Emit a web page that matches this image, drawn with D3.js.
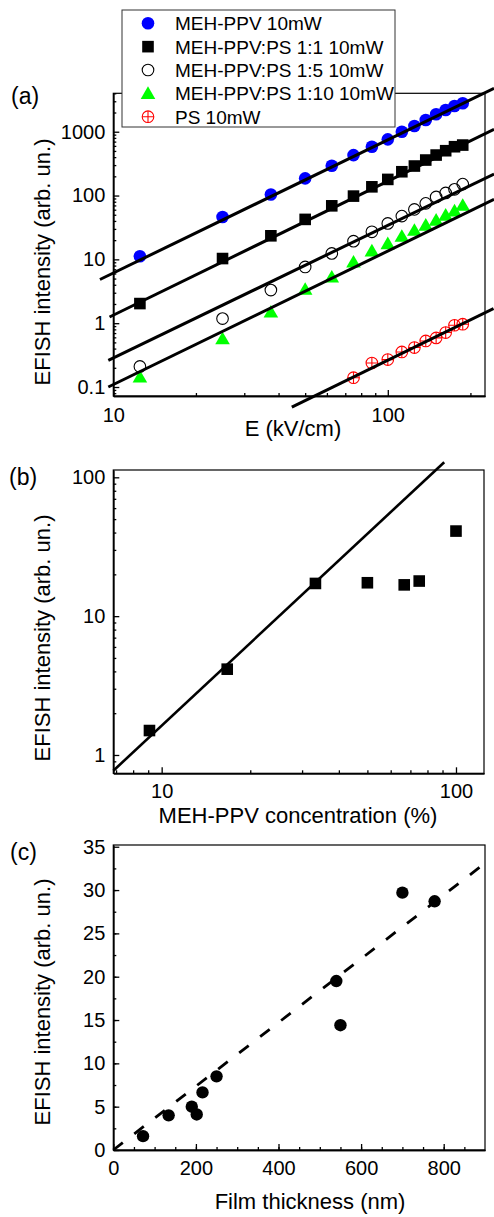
<!DOCTYPE html>
<html>
<head>
<meta charset="utf-8">
<title>EFISH intensity</title>
<script src="https://cdn.jsdelivr.net/npm/d3@7"></script>
<style>
  body { margin: 0; background: #fff; }
  svg text { font-family: "Liberation Sans", Arial, sans-serif; fill: #000; }
  .tick text { font-size: 20px; }
  .axis-title { font-size: 22px; }
  .panel-label { font-size: 23px; }
  .legend text { font-size: 19px; }
  .axis path, .axis line { stroke: #000; stroke-width: 1.3; }
</style>
</head>
<body>
<svg id="chart" width="494" height="1217"></svg>
<script>
// ---- data, panel (a): EFISH intensity vs field
var fieldE = [12.5, 25, 37.5, 50, 62.5, 75, 87.5, 100, 112.5, 125, 137.5, 150, 162.5, 175, 187.5];
var mehPpv = [11.2, 46, 104, 186, 293, 430, 582, 760, 1000, 1230, 1530, 1880, 2190, 2530, 2790];
var blend11 = [2.03, 10.3, 23.4, 42.3, 69, 98, 137, 179, 236, 290, 360, 431, 504, 582, 618];
var blend15 = [0.21, 1.18, 3.3, 7.6, 12.4, 19.3, 27, 36.6, 47.6, 60.7, 75.4, 95, 110, 125, 151];
var blend110 = [0.144, 0.57, 1.5, 3.4, 5.3, 9.1, 13.6, 17.7, 23.1, 28.7, 34.4, 41.2, 49.4, 57.7, 70.7];
var fieldPS = [75, 87.5, 100, 112.5, 125, 137.5, 150, 162.5, 175, 187.5];
var psOnly = [0.140, 0.238, 0.269, 0.354, 0.415, 0.527, 0.588, 0.713, 0.929, 0.964];
// power-law fits, [E1, I1, E2, I2]
var fitsA = [
  [8.94, 4.84, 243.8, 4797],
  [9.69, 1.25, 243.8, 1091],
  [9.59, 0.262, 243.8, 217],
  [9.59, 0.1, 243.8, 87],
  [44.7, 0.0485, 242.7, 1.70]
];
var seriesNames = ["MEH-PPV 10mW", "MEH-PPV:PS 1:1 10mW", "MEH-PPV:PS 1:5 10mW",
                   "MEH-PPV:PS 1:10 10mW", "PS 10mW"];

// ---- data, panel (b): intensity vs concentration
var concentration = [9.09, 16.7, 33.3, 50, 66.7, 75, 100];
var efishConc = [1.5, 4.15, 17.2, 17.4, 16.8, 17.9, 41];
var fitB = [6.85, 0.77, 91.2, 128.5];

// ---- data, panel (c): intensity vs thickness
var thickness = [72, 134, 190, 202, 216, 250, 540, 550, 700, 778];
var efishThick = [1.6, 4.0, 5.0, 4.1, 6.65, 8.5, 19.5, 14.4, 29.7, 28.7];
var fitC = [0, 0, 900, 33.1];

var svg = d3.select("#chart");

// inward ticks, labels on left/bottom, plain frame
function drawAxes(g, x, y, o) {
  var w = x.range()[1], h = y.range()[0];
  g.append("g").attr("class", "axis").attr("transform", "translate(0," + h + ")")
    .call(d3.axisBottom(x).tickValues(o.xMinor).tickSize(-3).tickSizeOuter(0).tickFormat(""));
  g.append("g").attr("class", "axis").attr("transform", "translate(0," + h + ")")
    .call(d3.axisBottom(x).tickValues(o.xMajor).tickSize(-6).tickSizeOuter(0).tickPadding(o.xPad || 12).tickFormat(o.xFmt));
  g.append("g").attr("class", "axis")
    .call(d3.axisLeft(y).tickValues(o.yMinor).tickSize(-3).tickSizeOuter(0).tickFormat(""));
  g.append("g").attr("class", "axis")
    .call(d3.axisLeft(y).tickValues(o.yMajor).tickSize(-6).tickSizeOuter(0).tickPadding(8).tickFormat(o.yFmt));
  g.append("rect").attr("width", w).attr("height", h)
    .attr("fill", "none").attr("stroke", "#000").attr("stroke-width", 1.2);
}

function logMinor(lo, hi) {
  var out = [];
  for (var p = Math.floor(Math.log10(lo)); p <= Math.ceil(Math.log10(hi)); p++) {
    for (var m = 2; m <= 9; m++) {
      var v = m * Math.pow(10, p);
      if (v >= lo && v <= hi) out.push(v);
    }
  }
  return out;
}

function marker(sel, type) {
  if (type === "disc") {
    sel.append("circle").attr("r", 6.3).attr("fill", "#0000ff");
  } else if (type === "square") {
    sel.append("rect").attr("x", -5.8).attr("y", -5.8).attr("width", 11.6).attr("height", 11.6).attr("fill", "#000");
  } else if (type === "ring") {
    sel.append("circle").attr("r", 5.8).attr("fill", "none").attr("stroke", "#000").attr("stroke-width", 1.1);
  } else if (type === "triangle") {
    sel.append("path").attr("d", "M0,-7L7.3,5.6L-7.3,5.6Z").attr("fill", "#00ff00");
  } else if (type === "crossCircle") {
    sel.append("circle").attr("r", 5.8).attr("fill", "none").attr("stroke", "#ff0000").attr("stroke-width", 1.1);
    sel.append("path").attr("d", "M-5.8,0H5.8M0,-5.8V5.8").attr("stroke", "#ff0000").attr("stroke-width", 1.1);
  }
}

function yTitle(text, cy) {
  svg.append("text").attr("class", "axis-title")
    .attr("transform", "translate(50," + cy + ") rotate(-90)")
    .attr("text-anchor", "middle").text(text);
}
function xTitle(text, cx, by) {
  svg.append("text").attr("class", "axis-title")
    .attr("x", cx).attr("y", by).attr("text-anchor", "middle").text(text);
}
function panelLabel(text, lx, by) {
  svg.append("text").attr("class", "panel-label").attr("x", lx).attr("y", by).text(text);
}

// ================= panel (a)
var wA = 371.7, hA = 302.7;
var gA = svg.append("g").attr("transform", "translate(113.3,93.3)");
var xA = d3.scaleLog().domain([10, 226]).range([0, wA]);
var yA = d3.scaleLog().domain([0.0723, 4000]).range([hA, 0]);

drawAxes(gA, xA, yA, {
  xMajor: [10, 100], xMinor: logMinor(10, 226), xFmt: d3.format("d"),
  yMajor: [0.1, 1, 10, 100, 1000], yMinor: logMinor(0.0723, 4000),
  yFmt: function(d) { return d < 1 ? "0.1" : String(d); }
});

var seriesA = [
  {x: fieldE, y: mehPpv, type: "disc"},
  {x: fieldE, y: blend11, type: "square"},
  {x: fieldE, y: blend15, type: "ring"},
  {x: fieldE, y: blend110, type: "triangle"},
  {x: fieldPS, y: psOnly, type: "crossCircle"}
];

seriesA.forEach(function(s) {
  gA.append("g").selectAll("g")
    .data(s.x.map(function(v, i) { return [v, s.y[i]]; }))
    .enter().append("g")
      .attr("transform", function(d) { return "translate(" + xA(d[0]) + "," + yA(d[1]) + ")"; })
      .each(function() { marker(d3.select(this), s.type); });
});

gA.selectAll(".fit").data(fitsA).enter().append("line")
  .attr("class", "fit")
  .attr("x1", function(d) { return xA(d[0]); }).attr("y1", function(d) { return yA(d[1]); })
  .attr("x2", function(d) { return xA(d[2]); }).attr("y2", function(d) { return yA(d[3]); })
  .attr("stroke", "#000").attr("stroke-width", 3);

// legend box sits over the top-left of the frame
var legend = svg.append("g").attr("class", "legend");
legend.append("rect").attr("x", 122).attr("y", 10).attr("width", 273).attr("height", 117)
  .attr("fill", "#fff").attr("stroke", "#333").attr("stroke-width", 1);
var rows = legend.selectAll(".row").data(seriesNames).enter().append("g")
  .attr("class", "row")
  .attr("transform", function(d, i) { return "translate(148," + (23.3 + i * 23.35) + ")"; });
rows.each(function(d, i) { marker(d3.select(this), seriesA[i].type); });
rows.append("text").attr("x", 27).attr("y", 7).text(function(d) { return d; });

panelLabel("(a)", 11, 104);
yTitle("EFISH intensity (arb. un.)", 262);
xTitle("E (kV/cm)", 293, 436);

// ================= panel (b)
var wB = 370.7, hB = 303.3;
var gB = svg.append("g").attr("transform", "translate(113.3,470)");
var xB = d3.scaleLog().domain([6.85, 124.5]).range([0, wB]);
var yB = d3.scaleLog().domain([0.738, 112.9]).range([hB, 0]);

drawAxes(gB, xB, yB, {
  xMajor: [10, 100], xMinor: logMinor(6.85, 124.5), xFmt: d3.format("d"), xPad: 10.5,
  yMajor: [1, 10, 100], yMinor: logMinor(0.738, 112.9), yFmt: d3.format("d")
});

gB.append("g").selectAll("rect")
  .data(concentration.map(function(v, i) { return [v, efishConc[i]]; }))
  .enter().append("g")
    .attr("transform", function(d) { return "translate(" + xB(d[0]) + "," + yB(d[1]) + ")"; })
    .each(function() { marker(d3.select(this), "square"); });

gB.append("line")
  .attr("x1", xB(fitB[0])).attr("y1", yB(fitB[1]))
  .attr("x2", xB(fitB[2])).attr("y2", yB(fitB[3]))
  .attr("stroke", "#000").attr("stroke-width", 2.6);

panelLabel("(b)", 9, 485);
yTitle("EFISH intensity (arb. un.)", 638);
xTitle("MEH-PPV concentration (%)", 298, 823);

// ================= panel (c)
var wC = 371.7, hC = 305;
var gC = svg.append("g").attr("transform", "translate(113.3,845)");
var xC = d3.scaleLinear().domain([0, 900]).range([0, wC]);
var yC = d3.scaleLinear().domain([0, 35.2]).range([hC, 0]);

drawAxes(gC, xC, yC, {
  xMajor: [0, 200, 400, 600, 800], xMinor: d3.range(50, 900, 50), xFmt: d3.format("d"), xPad: 11,
  yMajor: d3.range(0, 36, 5), yMinor: d3.range(2.5, 35, 2.5), yFmt: d3.format("d")
});

gC.append("g").selectAll("circle")
  .data(thickness.map(function(v, i) { return [v, efishThick[i]]; }))
  .enter().append("circle")
    .attr("cx", function(d) { return xC(d[0]); })
    .attr("cy", function(d) { return yC(d[1]); })
    .attr("r", 6.2).attr("fill", "#000");

gC.append("line")
  .attr("x1", xC(fitC[0])).attr("y1", yC(fitC[1]))
  .attr("x2", xC(fitC[2])).attr("y2", yC(fitC[3]))
  .attr("stroke", "#000").attr("stroke-width", 2.8)
  .attr("stroke-dasharray", "12,14.5");

panelLabel("(c)", 10, 860);
yTitle("EFISH intensity (arb. un.)", 1002);
xTitle("Film thickness (nm)", 310, 1209);
</script>
</body>
</html>
